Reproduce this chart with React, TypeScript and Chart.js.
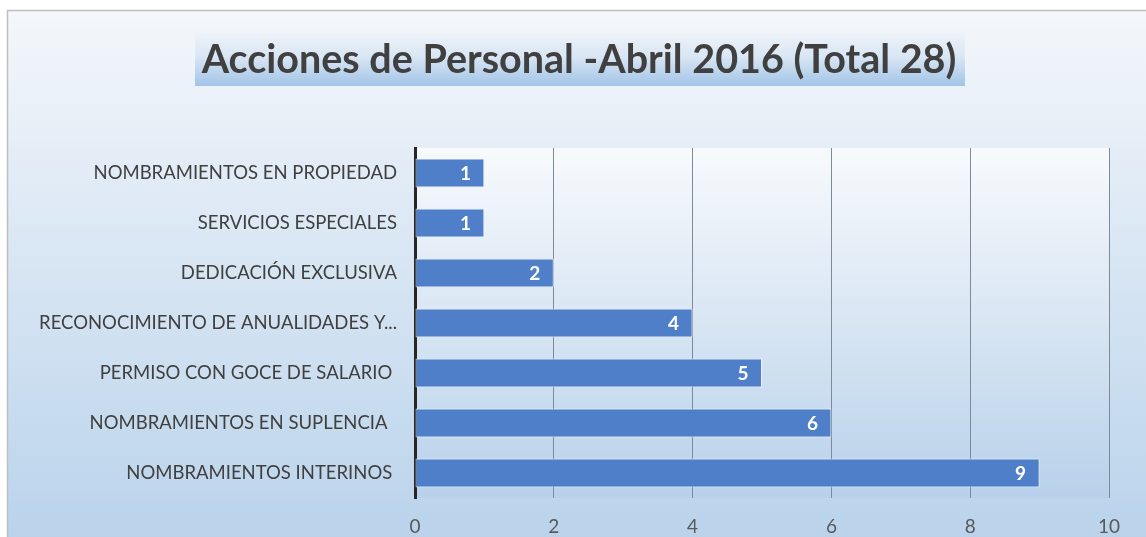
import React, { useEffect, useRef } from "react";
import { Chart, registerables } from "chart.js";

Chart.register(...registerables);

const TITLE = "Acciones de Personal -Abril 2016 (Total 28)";
const categories = [
  "NOMBRAMIENTOS EN PROPIEDAD",
  "SERVICIOS ESPECIALES",
  "DEDICACIÓN EXCLUSIVA",
  "RECONOCIMIENTO DE ANUALIDADES Y...",
  "PERMISO CON GOCE DE SALARIO ",
  "NOMBRAMIENTOS EN SUPLENCIA  ",
  "NOMBRAMIENTOS INTERINOS ",
];
const values = [1, 1, 2, 4, 5, 6, 9];
const xMin = 0;
const xMax = 10;
const xStep = 2;

const W = 1146;
const H = 537;

const backgroundPlugin = {
  id: "bgPlugin",
  beforeDraw(chart: any) {
    const ctx = chart.ctx;
    const ca = chart.chartArea;
    ctx.save();
    ctx.fillStyle = "#ffffff";
    ctx.fillRect(0, 0, W, H);
    // outer chart box
    const og = ctx.createLinearGradient(0, 10, 0, H);
    og.addColorStop(0, "#f4f7fb");
    og.addColorStop(1, "#bad3eb");
    ctx.fillStyle = og;
    ctx.fillRect(7, 10, W - 7, H - 10);
    ctx.strokeStyle = "#bfbfbf";
    ctx.lineWidth = 1.5;
    ctx.beginPath();
    ctx.moveTo(7.5, H);
    ctx.lineTo(7.5, 10.5);
    ctx.lineTo(W, 10.5);
    ctx.stroke();
    // plot area
    const pg = ctx.createLinearGradient(0, ca.top, 0, ca.bottom);
    pg.addColorStop(0, "#f8fafd");
    pg.addColorStop(1, "#b8d1ea");
    ctx.fillStyle = pg;
    ctx.fillRect(ca.left, ca.top, ca.right - ca.left, ca.bottom - ca.top);
    // title highlight
    const tx0 = 195, tx1 = 965, ty0 = 33, ty1 = 86;
    const tg = ctx.createLinearGradient(0, ty0, 0, ty1);
    tg.addColorStop(0, "#eef3f9");
    tg.addColorStop(0.45, "#d9e6f4");
    tg.addColorStop(1, "#a2c4e7");
    ctx.fillStyle = tg;
    ctx.fillRect(tx0, ty0, tx1 - tx0, ty1 - ty0);
    ctx.fillStyle = "#404040";
    ctx.font = "bold 39.5px Lato, 'Open Sans', sans-serif";
    ctx.textAlign = "center";
    ctx.textBaseline = "middle";
    ctx.fillText(TITLE, 579, 60);
    ctx.restore();
  },
};

const valueLabelPlugin = {
  id: "valueLabels",
  afterDatasetsDraw(chart: any) {
    const ctx = chart.ctx;
    const meta = chart.getDatasetMeta(0);
    ctx.save();
    ctx.fillStyle = "#ffffff";
    ctx.font = "bold 19px Lato, 'Open Sans', sans-serif";
    ctx.textAlign = "center";
    ctx.textBaseline = "middle";
    meta.data.forEach((bar: any, i: number) => {
      ctx.fillText(String(values[i]), bar.x - 19, bar.y + 1);
    });
    ctx.restore();
  },
};

export default function App() {
  const ref = useRef<HTMLCanvasElement>(null);
  useEffect(() => {
    if (!ref.current) return;
    const chart = new Chart(ref.current, {
      type: "bar",
      data: {
        labels: categories,
        datasets: [
          {
            data: values,
            backgroundColor: "#4f7fc9",
            borderColor: "rgba(235,242,250,0.9)",
            borderWidth: 1,
            borderSkipped: false,
            categoryPercentage: 0.58,
            barPercentage: 1,
          },
        ],
      },
      options: {
        indexAxis: "y",
        animation: false,
        responsive: false,
        maintainAspectRatio: false,
        events: [],
        layout: { padding: { top: 148, right: 37, bottom: 0, left: 0 } },
        plugins: {
          legend: { display: false },
          title: { display: false },
          tooltip: { enabled: false },
        },
        scales: {
          x: {
            min: xMin,
            max: xMax,
            afterFit(scale: any) {
              scale.height = 39;
            },
            ticks: {
              stepSize: xStep,
              padding: 17,
              color: "#595959",
              font: { family: "Lato, 'Open Sans', sans-serif", size: 19, weight: "normal" },
            },
            grid: {
              color: "#7d8a98",
              lineWidth: 1,
              drawTicks: false,
            },
            border: { display: false },
          },
          y: {
            afterFit(scale: any) {
              scale.width = 415;
            },
            ticks: {
              padding: 18,
              color: "#404040",
              font: { family: "Lato, 'Open Sans', sans-serif", size: 18.5, weight: "normal" },
              autoSkip: false,
            },
            grid: { display: false, drawTicks: false },
            border: { display: true, color: "#262626", width: 3 },
          },
        },
      },
      plugins: [backgroundPlugin, valueLabelPlugin],
    });
    return () => chart.destroy();
  }, []);
  return (
    <div style={{ position: "absolute", left: 0, top: 0, width: W, height: H }}>
      <canvas ref={ref} width={W} height={H} style={{ width: W, height: H, display: "block" }} />
    </div>
  );
}
